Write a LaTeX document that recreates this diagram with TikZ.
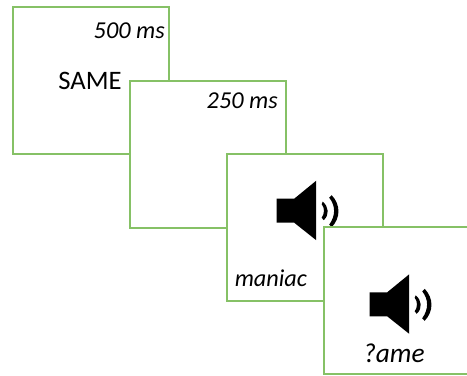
\documentclass[tikz,border=0pt]{standalone}
\usepackage{fontspec}
\setmainfont{Carlito}
\definecolor{framegreen}{HTML}{86C166}
\tikzset{
  trial/.style={draw=framegreen,line width=1.5pt,fill=white,rectangle,inner sep=0pt,outer sep=0pt,anchor=north west,minimum width=#1*0.75pt,minimum height=147*0.75pt},
  timing/.style={font=\fontsize{18.2pt}{20pt}\selectfont\itshape,inner sep=0pt,anchor=base east},
  word/.style={font=\fontsize{18.2pt}{20pt}\selectfont\itshape,inner sep=0pt,anchor=base west},
  plain/.style={font=\fontsize{20pt}{22pt}\selectfont,inner sep=0pt,anchor=base west},
  speaker/.pic={
    \fill[black] (0,0) -- (17.5,0) -- (39.5,-18) -- (39.5,41.5) -- (17.5,24) -- (0,24) -- cycle;
    \fill[black] (46,3) .. controls (52,8) and (53,16) .. (47,21.5) -- (45,19) .. controls (48,15) and (48,9) .. (45,5.5) -- cycle;
    \fill[black] (55,-3.5) .. controls (64,6) and (64,19) .. (55,28.5) -- (52.5,26) .. controls (59,17) and (59,7) .. (52.5,-1) -- cycle;
  }
}
\begin{document}
\begin{tikzpicture}[x=0.75pt,y=-0.75pt]
\useasboundingbox (0,0) rectangle (467,375);
\node[trial=156] (b1) at (12.5,6.5) {};
\node[timing] (t1) at (165,38) {500 ms};
\node[plain] (same) at (58,89.5) {SAME};
\node[trial=156] (b2) at (129.5,80.5) {};
\node[timing] (t2) at (278,108) {250 ms};
\node[trial=156] (b3) at (226.5,153.5) {};
\path (276.7,198.7) pic {speaker};
\node[word] (w1) at (234.5,286.5) {maniac};
\node[trial=160] (b4) at (323.5,226.5) {};
\path (369.7,292.3) pic {speaker};
\node[word,font=\fontsize{20.5pt}{22pt}\selectfont\itshape] (w2) at (363,362.5) {?ame};
\end{tikzpicture}
\end{document}
